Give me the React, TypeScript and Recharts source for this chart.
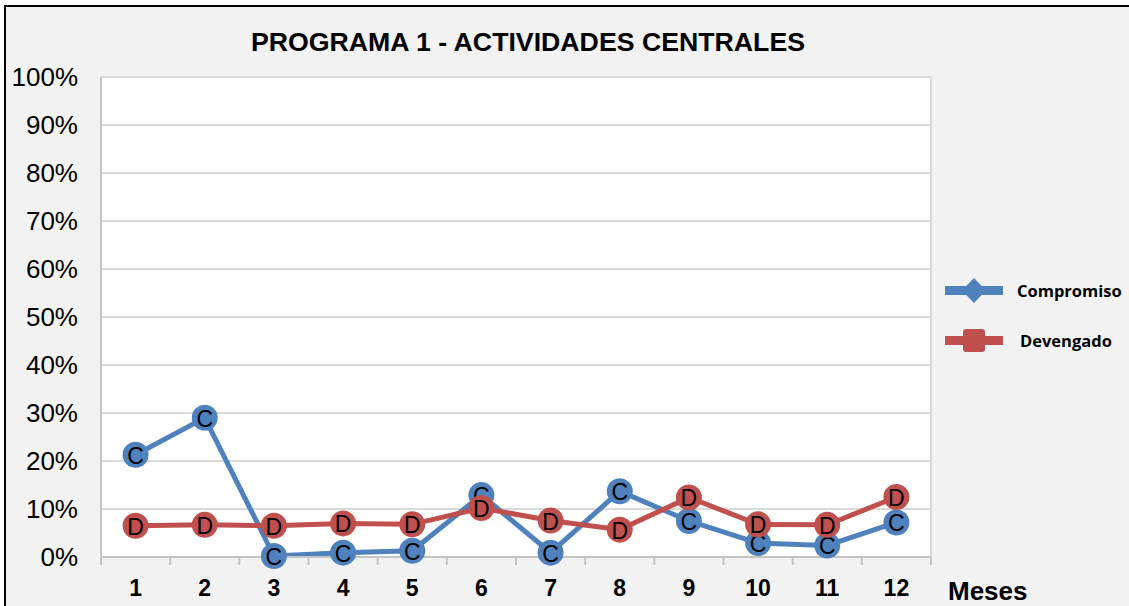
import React from 'react';
import {
  LineChart,
  Line,
  XAxis,
  YAxis,
  CartesianGrid,
} from 'recharts';

const meses = ['1', '2', '3', '4', '5', '6', '7', '8', '9', '10', '11', '12'];
const compromiso = [21.3, 29.0, 0.2, 0.9, 1.3, 12.9, 0.9, 13.7, 7.5, 2.9, 2.4, 7.2];
const devengado = [6.5, 6.7, 6.5, 7.0, 6.8, 10.2, 7.6, 5.7, 12.4, 6.8, 6.7, 12.5];
const yTicks = [0, 10, 20, 30, 40, 50, 60, 70, 80, 90, 100];

const datos = meses.map((mes, i) => ({
  mes,
  compromiso: compromiso[i],
  devengado: devengado[i],
}));

const colors = {
  compromiso: '#4f81bd',
  devengado: '#c0504d',
  grid: '#d9d9d9',
  border: '#c4c4c4',
  bg: '#f2f2f2',
};

const arial = '"Liberation Sans", Arial, sans-serif';

// marcador circular con la letra de la serie
const makeDot = (color: string, letra: string) => (props: any) => {
  const { cx, cy, index } = props;
  if (cx == null || cy == null) return <g key={index} />;
  return (
    <g key={`${letra}-${index}`}>
      <circle cx={cx} cy={cy} r={12} fill={color} stroke={color} strokeWidth={2} />
      <text
        x={cx}
        y={cy + 1}
        textAnchor="middle"
        dominantBaseline="central"
        fontFamily={arial}
        fontSize={23}
        fill="#000"
      >
        {letra}
      </text>
    </g>
  );
};

const MesTick = (props: any) => {
  const { x, y, payload, index, visibleTicksCount } = props;
  const half = payload?.offset ?? 34.6;
  const isLast = index === (visibleTicksCount ?? meses.length) - 1;
  return (
    <g>
      <line x1={x - half} y1={y} x2={x - half} y2={y + 8} stroke={colors.border} strokeWidth={2} />
      {isLast && (
        <line x1={x + half} y1={y} x2={x + half} y2={y + 8} stroke={colors.border} strokeWidth={2} />
      )}
      <text
        x={x}
        y={y + 39}
        textAnchor="middle"
        fontFamily={arial}
        fontWeight="bold"
        fontSize={23}
        fill="#000"
      >
        {payload.value}
      </text>
    </g>
  );
};

const LegendItem = ({ color, label, shape }: { color: string; label: string; shape: 'diamond' | 'square' }) => (
  <div style={{ display: 'flex', alignItems: 'center', height: 50 }}>
    <svg width={60} height={30} style={{ display: 'block' }}>
      <rect x={0} y={11} width={58} height={9} fill={color} />
      {shape === 'diamond' ? (
        <polygon points="29,3 41,15.5 29,28 17,15.5" fill={color} />
      ) : (
        <rect x={18} y={4} width={22} height={23} rx={3} fill={color} />
      )}
    </svg>
    <span
      style={{
        marginLeft: shape === 'diamond' ? 12 : 15,
        fontFamily: '"Open Sans", sans-serif',
        fontWeight: 'bold',
        fontSize: 16.5,
        color: '#000',
      }}
    >
      {label}
    </span>
  </div>
);

export default function App() {
  return (
    <div
      style={{
        position: 'fixed',
        left: 0,
        top: 0,
        width: 1129,
        height: 606,
        overflow: 'hidden',
        background: '#fff',
      }}
    >
      <div
        style={{
          position: 'absolute',
          left: 4,
          top: 5,
          width: 1200,
          height: 700,
          borderTop: '2px solid #000',
          borderLeft: '2px solid #000',
          background: colors.bg,
        }}
      />
      <div
        style={{
          position: 'absolute',
          left: 0,
          top: 27,
          width: 1056,
          textAlign: 'center',
          fontFamily: arial,
          fontWeight: 'bold',
          fontSize: 26.7,
          color: '#000',
        }}
      >
        PROGRAMA 1 - ACTIVIDADES CENTRALES
      </div>
      <div style={{ position: 'absolute', left: 0, top: 0 }}>
        <LineChart
          width={1129}
          height={606}
          data={datos}
          margin={{ top: 77, right: 198, bottom: 0, left: 6 }}
        >
          <CartesianGrid
            fill="#fff"
            stroke={colors.grid}
            strokeWidth={2}
            verticalCoordinatesGenerator={({ offset }: any) => [offset.left, offset.left + offset.width]}
          />
          <XAxis
            dataKey="mes"
            scale="band"
            height={49}
            axisLine={{ stroke: colors.border, strokeWidth: 2 }}
            tickLine={false}
            tickSize={0}
            tickMargin={0}
            tick={<MesTick />}
            interval={0}
          />
          <YAxis
            width={95}
            domain={[0, 100]}
            ticks={yTicks}
            tickFormatter={(v: number) => `${v}%`}
            axisLine={{ stroke: colors.border, strokeWidth: 2 }}
            tickLine={false}
            tickSize={0}
            tickMargin={23}
            tick={{ fill: '#000', fontFamily: arial, fontSize: 26 }}
          />
          <Line
            type="linear"
            dataKey="compromiso"
            name="Compromiso"
            stroke={colors.compromiso}
            strokeWidth={5}
            dot={makeDot(colors.compromiso, 'C')}
            activeDot={false}
            isAnimationActive={false}
          />
          <Line
            type="linear"
            dataKey="devengado"
            name="Devengado"
            stroke={colors.devengado}
            strokeWidth={5}
            dot={makeDot(colors.devengado, 'D')}
            activeDot={false}
            isAnimationActive={false}
          />
        </LineChart>
      </div>
      <div style={{ position: 'absolute', left: 945, top: 265 }}>
        <LegendItem color={colors.compromiso} label="Compromiso" shape="diamond" />
        <LegendItem color={colors.devengado} label="Devengado" shape="square" />
      </div>
      <div
        style={{
          position: 'absolute',
          left: 948,
          top: 576,
          fontFamily: arial,
          fontWeight: 'bold',
          fontSize: 26,
          color: '#000',
        }}
      >
        Meses
      </div>
    </div>
  );
}
